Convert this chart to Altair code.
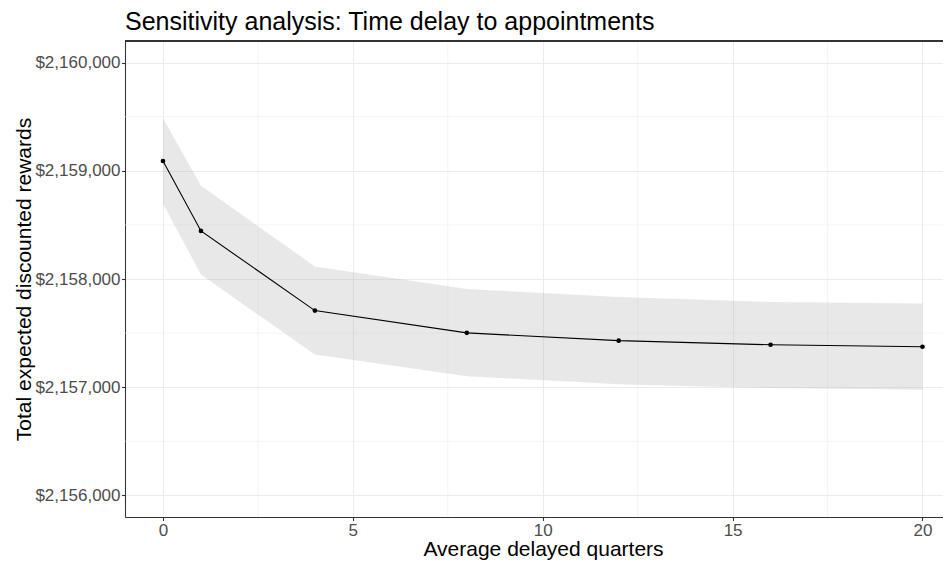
import altair as alt
import pandas as pd

# Data
delay_quarters = [0, 1, 4, 8, 12, 16, 20]
mean_reward = [2159091, 2158444, 2157708, 2157502, 2157430, 2157392, 2157374]
upper_reward = [2159487, 2158861, 2158116, 2157907, 2157833, 2157788, 2157773]
lower_reward = [2158698, 2158041, 2157302, 2157102, 2157028, 2156992, 2156977]

x_major_ticks = [0, 5, 10, 15, 20]
x_minor_ticks = [2.5, 7.5, 12.5, 17.5]
y_major_ticks = [2156000, 2157000, 2158000, 2159000, 2160000]
y_minor_ticks = [2156500, 2157500, 2158500, 2159500]

df = pd.DataFrame({
    "delay": delay_quarters,
    "mean": mean_reward,
    "upper": upper_reward,
    "lower": lower_reward,
})
df_minor_x = pd.DataFrame({"minor_x": x_minor_ticks})
df_minor_y = pd.DataFrame({"minor_y": y_minor_ticks})

W, H = 818, 476
FONT = "Liberation Sans"

x_scale = alt.Scale(domain=[-1, 20.54], nice=False, zero=False)
y_scale = alt.Scale(domain=[2155800, 2160200], nice=False, zero=False)

x_axis = alt.Axis(
    values=x_major_ticks, title="Average delayed quarters",
    titleX=418, titleY=38, titleAlign="center", titleBaseline="alphabetic",
    titleFontSize=21, titleColor="black", titleFont=FONT, titleFontWeight="normal",
    labelFontSize=17, labelColor="#4D4D4D", labelFont=FONT, labelPadding=1.5,
    tickSize=3.5, tickColor="#333333", tickWidth=1.07,
    domainColor="#333333", domainWidth=1.07,
    grid=True, gridColor="#EBEBEB", gridWidth=1.07,
)
y_axis = alt.Axis(
    values=y_major_ticks, format="$,.0f", title="Total expected discounted rewards",
    titleX=-95, titleY=H / 2, titleAngle=-90, titleAlign="center", titleBaseline="alphabetic",
    titleFontSize=21, titleColor="black", titleFont=FONT, titleFontWeight="normal",
    labelFontSize=17, labelColor="#4D4D4D", labelFont=FONT, labelPadding=1.5,
    tickSize=3.5, tickColor="#333333", tickWidth=1.07,
    domainColor="#333333", domainWidth=1.07,
    grid=True, gridColor="#EBEBEB", gridWidth=1.07,
)


def xe(field):
    return alt.X(field, type="quantitative", scale=x_scale, axis=x_axis)


def ye(field):
    return alt.Y(field, type="quantitative", scale=y_scale, axis=y_axis)


minor_x = alt.Chart(df_minor_x).mark_rule(color="#EBEBEB", strokeWidth=0.55).encode(x=xe("minor_x"))
minor_y = alt.Chart(df_minor_y).mark_rule(color="#EBEBEB", strokeWidth=0.55).encode(y=ye("minor_y"))

ribbon = alt.Chart(df).mark_area(color="#B3B3B3", opacity=0.3).encode(
    x=xe("delay"), y=ye("lower"), y2=alt.Y2("upper")
)
line = alt.Chart(df).mark_line(color="black", strokeWidth=1.1).encode(x=xe("delay"), y=ye("mean"))
points = alt.Chart(df).mark_point(filled=True, color="black", size=22, opacity=1).encode(
    x=xe("delay"), y=ye("mean")
)
top_border = alt.Chart(df).mark_rule(color="#333333", strokeWidth=1.07).encode(
    x=alt.value(0), x2=alt.value(W), y=alt.value(0)
)

chart = alt.layer(minor_x, minor_y, ribbon, line, points, top_border).properties(
    width=W,
    height=H,
    title=alt.Title(
        "Sensitivity analysis: Time delay to appointments",
        anchor="start", frame="group", fontSize=25, font=FONT,
        fontWeight="normal", color="black", baseline="alphabetic", offset=11, dy=26,
    ),
    autosize=alt.AutoSizeParams(type="none"),
    padding={"left": 117, "top": 33, "right": 0, "bottom": 45},
).configure_view(stroke=None).configure(background="white")

chart.save("out.html", embed_options={"renderer": "svg", "actions": False})
